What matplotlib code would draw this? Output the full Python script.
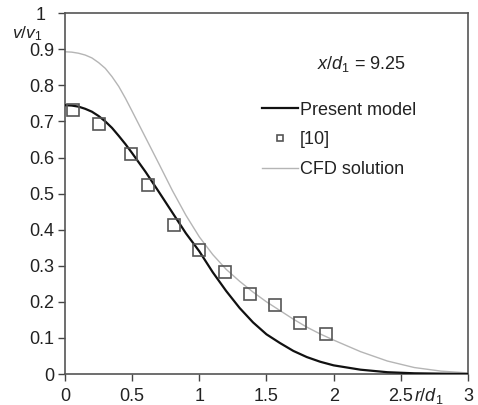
import numpy as np
import matplotlib
matplotlib.use("Agg")
import matplotlib.pyplot as plt

plt.rcParams['font.family'] = ['Liberation Sans', 'DejaVu Sans']
plt.rcParams['mathtext.fontset'] = 'custom'
plt.rcParams['mathtext.rm'] = 'Liberation Sans'
plt.rcParams['mathtext.it'] = 'Liberation Sans:italic'

# radial profiles of v/v1 against r/d1 at x/d1 = 9.25
r_curve = [0.0, 0.05, 0.1, 0.15, 0.2, 0.25, 0.3, 0.35, 0.4, 0.45, 0.5, 0.6,
           0.7, 0.8, 0.9, 1.0, 1.1, 1.2, 1.3, 1.4, 1.5, 1.6, 1.7, 1.8, 1.9,
           2.0, 2.2, 2.4, 2.6, 2.8, 3.0]
v_model = [0.745, 0.744, 0.741, 0.735, 0.727, 0.715, 0.700, 0.682, 0.660,
           0.637, 0.612, 0.560, 0.504, 0.447, 0.390, 0.340, 0.282, 0.230,
           0.183, 0.143, 0.110, 0.086, 0.064, 0.047, 0.034, 0.024, 0.012,
           0.005, 0.002, 0.001, 0.0]
v_cfd = [0.893, 0.892, 0.889, 0.884, 0.876, 0.863, 0.847, 0.824, 0.797,
         0.764, 0.728, 0.655, 0.582, 0.508, 0.440, 0.380, 0.331, 0.290,
         0.257, 0.227, 0.200, 0.176, 0.152, 0.130, 0.111, 0.094, 0.062,
         0.036, 0.018, 0.008, 0.003]

# experimental points, ref [10]
r_exp = [0.06, 0.25, 0.49, 0.62, 0.81, 1.0, 1.19, 1.38, 1.56, 1.75, 1.945]
v_exp = [0.731, 0.692, 0.611, 0.523, 0.413, 0.343, 0.282, 0.221, 0.191, 0.140, 0.111]

xticks = [0, 0.5, 1, 1.5, 2, 2.5, 3]
xticklabels = ['0', '0.5', '1', '1.5', '2', '2.5', '3']
yticks = [0, 0.1, 0.2, 0.3, 0.4, 0.5, 0.6, 0.7, 0.8, 0.9, 1]
yticklabels = ['0', '0.1', '0.2', '0.3', '0.4', '0.5', '0.6', '0.7', '0.8', '0.9', '']

fig = plt.figure(figsize=(4.78, 4.05), dpi=100)
ax = fig.add_axes([0.136, 0.0765, 0.843, 0.891])

ax.plot(r_curve, v_model, color='#111111', lw=1.6, label='Present model', zorder=3)
ax.plot(r_exp, v_exp, ls='none', marker='s', ms=9, mfc='none', mec='#555555',
        mew=1.2, label='[10]', zorder=4)
ax.plot(r_curve, v_cfd, color='#b5b5b5', lw=1.0, label='CFD solution', zorder=2)

ax.set_xlim(0, 3)
ax.set_ylim(0, 1)
ax.set_xticks(xticks)
ax.set_xticklabels(xticklabels)
ax.set_yticks(yticks)
ax.set_yticklabels(yticklabels)
ax.tick_params(direction='out', length=5, width=1, color='#444444',
               labelsize=13, pad=3, labelcolor='#222222')
ax.tick_params(axis='x', pad=5)
for s in ax.spines.values():
    s.set_color('#555555')
    s.set_linewidth(1.2)

# axis captions sit beside the tick labels
ax.text(-0.06, 0.993, '1', transform=ax.transAxes, fontsize=13,
        color='#222222', ha='center', va='center')
ax.text(-0.095, 0.943, r'$v/v_1$', transform=ax.transAxes, fontsize=12.5,
        color='#222222', ha='center', va='center')
ax.text(2.71, -0.062, r'$r/d_1$', fontsize=13, color='#222222',
        ha='center', va='center')

ax.text(0.735, 0.86, r'$x/d_1$ = 9.25', transform=ax.transAxes, fontsize=13,
        color='#222222', ha='center', va='center')

leg = ax.legend(loc='upper left', bbox_to_anchor=(0.47, 0.775), frameon=False,
                fontsize=13, handlelength=2.0, handletextpad=0.1,
                labelspacing=0.7, markerscale=0.55, borderaxespad=0)
for t in leg.get_texts():
    t.set_color('#222222')

fig.savefig('out.png', dpi=100)
